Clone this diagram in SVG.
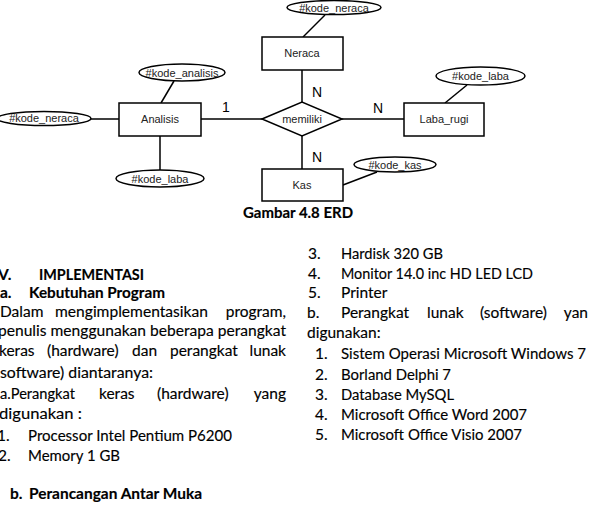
<svg xmlns="http://www.w3.org/2000/svg" width="592" height="507" viewBox="0 0 592 507">
<style>
.shape{fill:#fff;stroke:#000;stroke-width:1.5}
.conn line{stroke:#000;stroke-width:1.5}
.lbl{font-family:"Liberation Sans",Arial,sans-serif;font-size:11px;fill:#222;text-anchor:middle}
.card{font-family:"Liberation Sans",Arial,sans-serif;font-size:14px;fill:#000}
.t{font-family:Lato,"Open Sans",sans-serif;font-size:15.5px;fill:#000;stroke:#000;stroke-width:0.15}
.b{font-weight:bold}
.e{text-anchor:end}
</style>
<rect width="592" height="507" fill="#fff"/>
<g id="connectors" class="conn">
<line x1="325" y1="15" x2="303" y2="37"/>
<line x1="302" y1="70" x2="302" y2="102"/>
<line x1="302" y1="136" x2="302" y2="169"/>
<line x1="201" y1="119" x2="262" y2="119"/>
<line x1="342" y1="119" x2="404" y2="119"/>
<line x1="174" y1="81" x2="161" y2="103"/>
<line x1="91" y1="119" x2="119" y2="119"/>
<line x1="160" y1="136" x2="160" y2="170"/>
<line x1="467" y1="85" x2="445" y2="103"/>
<line x1="377" y1="172" x2="343" y2="185"/>
</g>
<g id="cardinality">
<text class="card" x="222" y="112">1</text>
<text class="card" x="312" y="97">N</text>
<text class="card" x="373" y="113">N</text>
<text class="card" x="312" y="162">N</text>
</g>
<g id="neraca"><rect class="shape" x="262" y="37" width="81" height="33"/><text class="lbl" x="302" y="57">Neraca</text></g>
<g id="analisis"><rect class="shape" x="119" y="103" width="82" height="33"/><text class="lbl" x="160" y="123">Analisis</text></g>
<g id="laba_rugi"><rect class="shape" x="404" y="103" width="80" height="33"/><text class="lbl" x="444" y="123">Laba_rugi</text></g>
<g id="kas"><rect class="shape" x="262" y="169" width="81" height="32"/><text class="lbl" x="302" y="189">Kas</text></g>
<g id="memiliki"><polygon class="shape" points="262,119 302,102 342,119 302,136"/><text class="lbl" x="302" y="123">memiliki</text></g>
<g id="attr_kode_neraca_top"><ellipse class="shape" cx="334" cy="7.5" rx="47" ry="7"/><text class="lbl" x="334" y="11.5">#kode_neraca</text></g>
<g id="attr_kode_analisis"><ellipse class="shape" cx="182" cy="72.5" rx="43" ry="8.5"/><text class="lbl" x="182" y="76.5">#kode_analisis</text></g>
<g id="attr_kode_neraca_left"><ellipse class="shape" cx="44" cy="118.5" rx="47" ry="7"/><text class="lbl" x="44" y="122">#kode_neraca</text></g>
<g id="attr_kode_laba_bottom"><ellipse class="shape" cx="160" cy="178.5" rx="44" ry="8.5"/><text class="lbl" x="160" y="182.5">#kode_laba</text></g>
<g id="attr_kode_laba_right"><ellipse class="shape" cx="480.5" cy="76" rx="44.5" ry="9"/><text class="lbl" x="480.5" y="80">#kode_laba</text></g>
<g id="attr_kode_kas"><ellipse class="shape" cx="395" cy="164.5" rx="41" ry="7.5"/><text class="lbl" x="395" y="168.5">#kode_kas</text></g>
<text class="t b" x="243" y="218" textLength="110" lengthAdjust="spacingAndGlyphs">Gambar 4.8 ERD</text>
<g id="left-text">
<text class="t b" x="-2" y="280">V.</text>
<text class="t b" x="39" y="280" textLength="105" lengthAdjust="spacingAndGlyphs">IMPLEMENTASI</text>
<text class="t b" x="0" y="298">a.</text>
<text class="t b" x="29" y="298" textLength="136" lengthAdjust="spacingAndGlyphs">Kebutuhan Program</text>
<text class="t" x="0" y="317">Dalam</text>
<text class="t" x="55" y="317" textLength="153" lengthAdjust="spacingAndGlyphs">mengimplementasikan</text>
<text class="t e" x="286" y="317">program,</text>
<text class="t" x="-2" y="336" textLength="288" lengthAdjust="spacingAndGlyphs">penulis menggunakan beberapa perangkat</text>
<text class="t" x="-1" y="356">keras</text>
<text class="t" x="47" y="356">(hardware)</text>
<text class="t" x="132" y="356">dan</text>
<text class="t" x="170" y="356">perangkat</text>
<text class="t e" x="286" y="356">lunak</text>
<text class="t" x="0" y="378" textLength="153" lengthAdjust="spacingAndGlyphs">software) diantaranya:</text>
<text class="t" x="0" y="399" textLength="75" lengthAdjust="spacingAndGlyphs">a.Perangkat</text>
<text class="t" x="99" y="399">keras</text>
<text class="t" x="157" y="399">(hardware)</text>
<text class="t e" x="286" y="399">yang</text>
<text class="t" x="-1" y="419" textLength="83" lengthAdjust="spacingAndGlyphs">digunakan :</text>
<text class="t" x="-3" y="441">1.</text>
<text class="t" x="28" y="441" textLength="204" lengthAdjust="spacingAndGlyphs">Processor Intel Pentium P6200</text>
<text class="t" x="-2" y="461">2.</text>
<text class="t" x="28" y="461" textLength="92" lengthAdjust="spacingAndGlyphs">Memory 1 GB</text>
<text class="t b" x="10" y="499">b.</text>
<text class="t b" x="29" y="499" textLength="173" lengthAdjust="spacingAndGlyphs">Perancangan Antar Muka</text>
</g>
<g id="right-text">
<text class="t" x="308" y="259">3.</text>
<text class="t" x="341" y="259" textLength="102" lengthAdjust="spacingAndGlyphs">Hardisk 320 GB</text>
<text class="t" x="308" y="279">4.</text>
<text class="t" x="341" y="279" textLength="192" lengthAdjust="spacingAndGlyphs">Monitor 14.0 inc HD LED LCD</text>
<text class="t" x="308" y="298">5.</text>
<text class="t" x="341" y="298">Printer</text>
<text class="t" x="307" y="318">b.</text>
<text class="t" x="341" y="318">Perangkat</text>
<text class="t" x="427" y="318">lunak</text>
<text class="t" x="480" y="318">(software)</text>
<text class="t e" x="588" y="318">yan</text>
<text class="t" x="307" y="338">digunakan:</text>
<text class="t" x="315" y="359">1.</text>
<text class="t" x="341" y="359" textLength="245" lengthAdjust="spacingAndGlyphs">Sistem Operasi Microsoft Windows 7</text>
<text class="t" x="315" y="380">2.</text>
<text class="t" x="341" y="380" textLength="110" lengthAdjust="spacingAndGlyphs">Borland Delphi 7</text>
<text class="t" x="315" y="400">3.</text>
<text class="t" x="341" y="400" textLength="113" lengthAdjust="spacingAndGlyphs">Database MySQL</text>
<text class="t" x="315" y="420">4.</text>
<text class="t" x="341" y="420" textLength="186" lengthAdjust="spacingAndGlyphs">Microsoft Office Word 2007</text>
<text class="t" x="315" y="440">5.</text>
<text class="t" x="341" y="440" textLength="181" lengthAdjust="spacingAndGlyphs">Microsoft Office Visio 2007</text>
</g>
</svg>
